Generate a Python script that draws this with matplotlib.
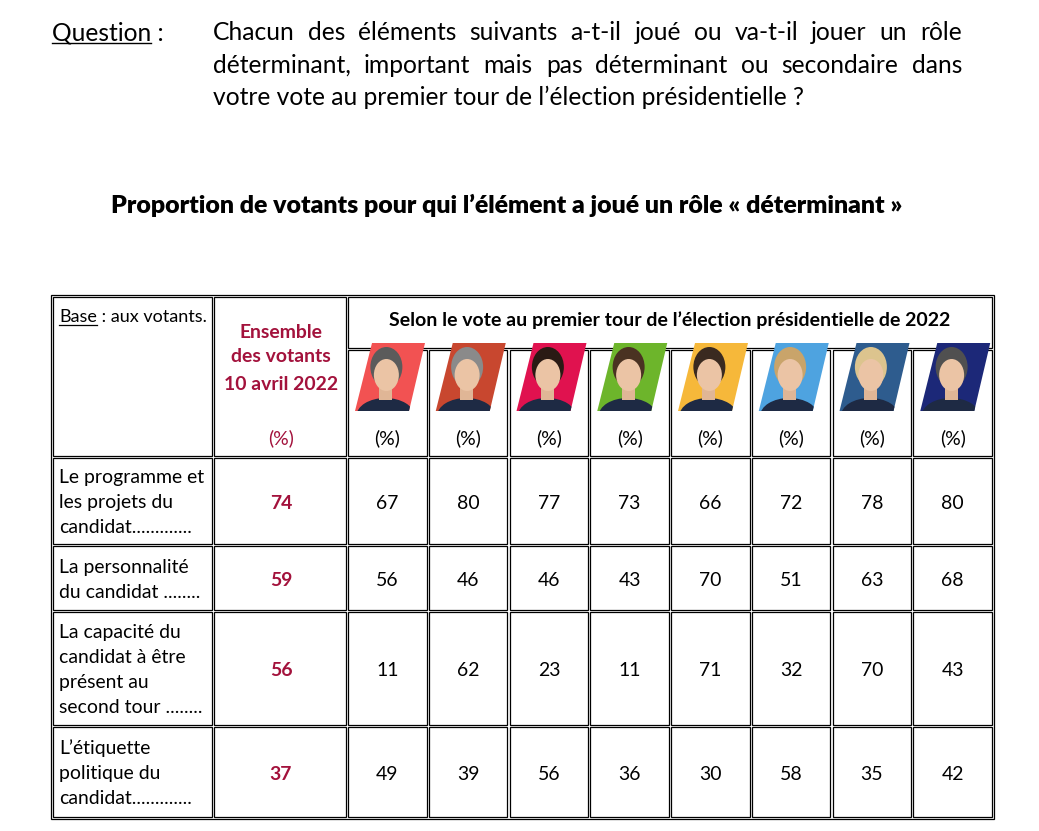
import matplotlib
matplotlib.use('Agg')
import matplotlib.pyplot as plt
from matplotlib.patches import Rectangle, Polygon, Ellipse
import numpy as np

# data
row_labels = [
    ['Le programme et', 'les projets du', 'candidat.............'],
    ['La personnalité', 'du candidat ........'],
    ['La capacité du', 'candidat à être', 'présent au', 'second tour ........'],
    ['L’étiquette', 'politique du', 'candidat.............'],
]
ensemble = [74, 59, 56, 37]
candidates = ['Roussel', 'Mélenchon', 'Hidalgo', 'Jadot', 'Macron', 'Pécresse', 'Le Pen', 'Zemmour']
values = [
    [67, 80, 77, 73, 66, 72, 78, 80],
    [56, 46, 46, 43, 70, 51, 63, 68],
    [11, 62, 23, 11, 71, 32, 70, 43],
    [49, 39, 56, 36, 30, 58, 35, 42],
]
question_lines = [
    'Chacun des éléments suivants a-t-il joué ou va-t-il jouer un rôle',
    'déterminant, important mais pas déterminant ou secondaire dans',
    'votre vote au premier tour de l’élection présidentielle ?',
]
title = 'Proportion de votants pour qui l’élément a joué un rôle « déterminant »'
header = 'Selon le vote au premier tour de l’élection présidentielle de 2022'
ensemble_head = ['Ensemble', 'des votants', '10 avril 2022']

# styles
bg_colors = ['#f25252', '#c8472f', '#e0124f', '#6db52b', '#f6b83a', '#4ea3e0', '#2e5c8e', '#1c2878']
hair_colors = ['#5b5b5b', '#8a8a8a', '#2a1a14', '#4a3222', '#3a2a20', '#c9a46a', '#dcc48e', '#505050']
RED = '#a3123c'
FONT = ['Lato', 'DejaVu Sans']
NARROW = ['Liberation Sans Narrow', 'Lato', 'DejaVu Sans']

W, H = 1039, 831
fig = plt.figure(figsize=(W / 100, H / 100), dpi=100)
ax = fig.add_axes([0, 0, 1, 1])
ax.set_xlim(0, W)
ax.set_ylim(H, 0)
ax.axis('off')
renderer = fig.canvas.get_renderer()


def text_width(s, size, weight='normal', family=FONT):
    t = ax.text(0, 0, s, fontsize=size, fontweight=weight, family=family)
    w = t.get_window_extent(renderer).width
    t.remove()
    return w


def fit_size(s, target, weight='normal', family=FONT):
    return 20 * target / text_width(s, 20, weight, family)


# question block
qsize = fit_size(question_lines[2], 595, family=NARROW)
ax.text(52, 40, 'Question :', fontsize=qsize, family=NARROW, va='baseline')
qw = text_width('Question', qsize, family=NARROW)
ax.plot([52, 52 + qw], [43, 43], color='black', lw=1)
q_baselines = [40, 73, 105]
for i, line in enumerate(question_lines):
    words = line.split(' ')
    if i < 2:
        ws = [text_width(w, qsize, family=NARROW) for w in words]
        gap = (962 - 213 - sum(ws)) / (len(words) - 1)
        x = 213
        for w, ww in zip(words, ws):
            ax.text(x, q_baselines[i], w, fontsize=qsize, family=NARROW, va='baseline')
            x += ww + gap
    else:
        ax.text(213, q_baselines[i], line, fontsize=qsize, family=NARROW, va='baseline')

# title
tsize = fit_size(title, 793, 'heavy')
ax.text(507, 213, title, fontsize=tsize, fontweight='heavy', family=FONT, ha='center', va='baseline')

# table grid
xs = [52, 213, 347] + list(np.linspace(347, 993, len(candidates) + 1)[1:])
ys_head = [296, 349, 457]
row_edges = [457, 545, 611, 726, 818]
g = 1.2


def cell(x0, y0, x1, y1):
    ax.add_patch(Rectangle((x0 + g, y0 + g), x1 - x0 - 2 * g, y1 - y0 - 2 * g,
                           fill=False, ec='black', lw=0.9))


ax.add_patch(Rectangle((xs[0] - 0.8, ys_head[0] - 0.8), xs[-1] - xs[0] + 1.6,
                       row_edges[-1] - ys_head[0] + 1.6, fill=False, ec='black', lw=0.9))
cell(xs[0], ys_head[0], xs[1], ys_head[2])
cell(xs[1], ys_head[0], xs[2], ys_head[2])
cell(xs[2], ys_head[0], xs[-1], ys_head[1])
for j in range(len(candidates)):
    cell(xs[2 + j], ys_head[1], xs[3 + j], ys_head[2])
for r in range(len(values)):
    for c in range(len(xs) - 1):
        cell(xs[c], row_edges[r], xs[c + 1], row_edges[r + 1])

bsize = fit_size('Le programme et', 145)

# header texts
ax.text(59, 322, 'Base', fontsize=bsize * 0.93, family=FONT, va='baseline')
bw = text_width('Base', bsize * 0.93)
ax.plot([59, 59 + bw], [325, 325], color='black', lw=0.9)
ax.text(59 + bw, 322, ' : aux votants.', fontsize=bsize * 0.93, family=FONT, va='baseline')

for s, yb in zip(ensemble_head, [338, 362, 390]):
    ax.text(281, yb, s, fontsize=bsize, fontweight='bold', color=RED, family=FONT,
            ha='center', va='baseline')
ax.text(281, 444, '(%)', fontsize=bsize, color=RED, family=FONT, ha='center', va='baseline')

hsize = fit_size(header, 560, 'bold')
ax.text((xs[2] + xs[-1]) / 2, 326, header, fontsize=hsize, fontweight='bold',
        family=FONT, ha='center', va='baseline')

# candidate pictures (placeholders) and (%)
for j, name in enumerate(candidates):
    x0 = xs[2 + j]
    cx = (x0 + xs[3 + j]) / 2
    ax.text(cx, 444, '(%)', fontsize=bsize, family=FONT, ha='center', va='baseline')
    para = Polygon([(x0 + 25, 343), (x0 + 78, 343), (x0 + 62, 411), (x0 + 8, 411)],
                   closed=True, fc=bg_colors[j], ec='none')
    ax.add_patch(para)
    body = Ellipse((cx - 2, 416), 58, 36, fc='#1e2a44', ec='none')
    ax.add_patch(body)
    body.set_clip_path(para)
    neck = Rectangle((cx - 8, 386), 13, 14, fc='#e0b696', ec='none')
    ax.add_patch(neck)
    neck.set_clip_path(para)
    hair = Ellipse((cx - 1, 367), 32, 40, fc=hair_colors[j], ec='none')
    ax.add_patch(hair)
    hair.set_clip_path(para)
    face = Ellipse((cx - 1, 375), 25, 32, fc='#ebc4a5', ec='none')
    ax.add_patch(face)

# body rows
for r, lines in enumerate(row_labels):
    yc = (row_edges[r] + row_edges[r + 1]) / 2
    n = len(lines)
    for i, s in enumerate(lines):
        yb = yc + (i - (n - 1) / 2) * 25 + 7
        ax.text(59, yb, s, fontsize=bsize, family=FONT, va='baseline')
    ax.text(281, yc + 2.5, str(ensemble[r]), fontsize=bsize, fontweight='bold', color=RED,
            family=FONT, ha='center', va='center')
    for j, v in enumerate(values[r]):
        cx = (xs[2 + j] + xs[3 + j]) / 2
        ax.text(cx, yc + 2.5, str(v), fontsize=bsize, family=FONT, ha='center', va='center')

fig.savefig('out.png', dpi=100, facecolor='white')
